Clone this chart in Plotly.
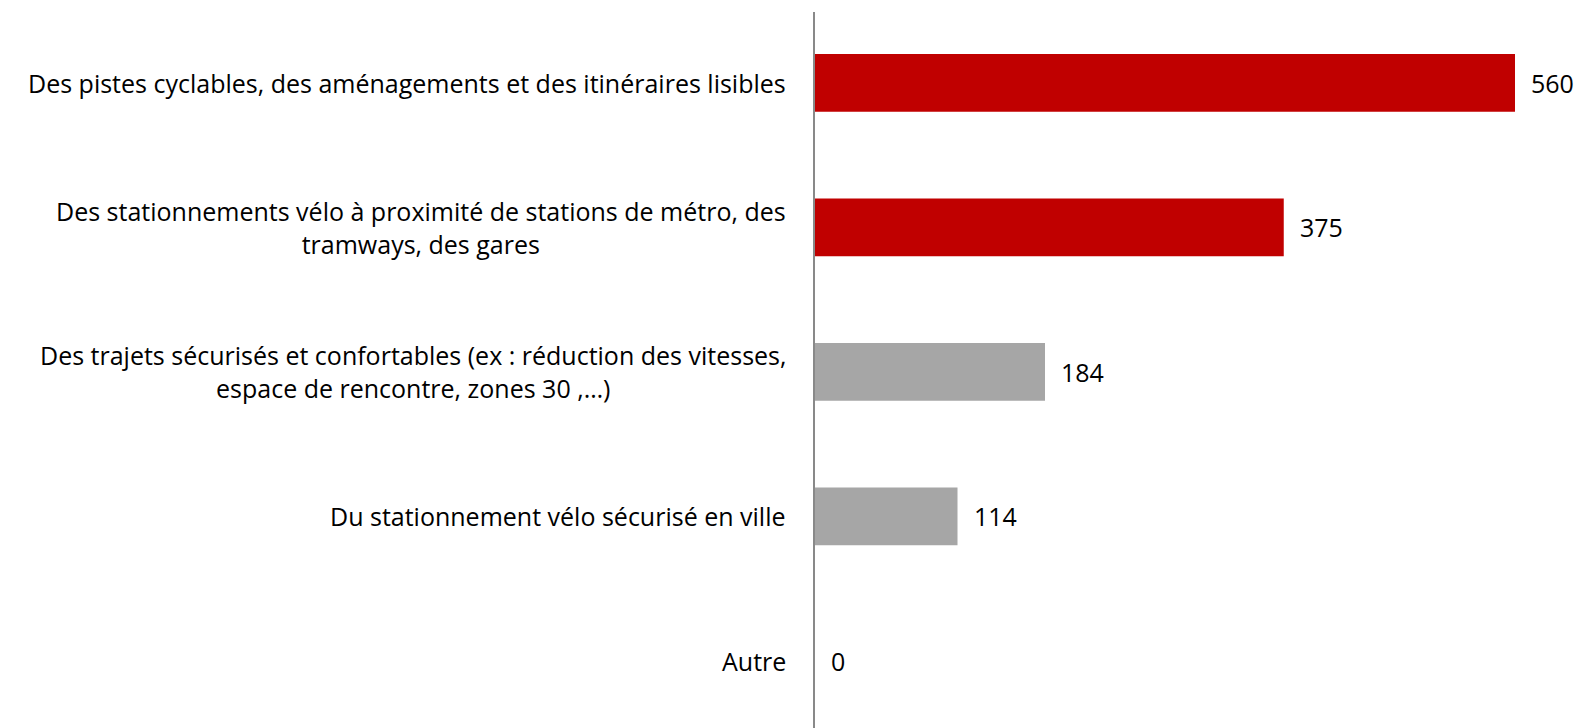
import plotly.graph_objects as go

categories = [
    "Des pistes cyclables, des aménagements et des itinéraires lisibles",
    "Des stationnements vélo à proximité de stations de métro, des<br>tramways, des gares",
    "Des trajets sécurisés et confortables (ex : réduction des vitesses,<br>espace de rencontre, zones 30 ,…)",
    "Du stationnement vélo sécurisé en ville",
    "Autre",
]
values = [560, 375, 184, 114, 0]
bar_colors = ["#C00000", "#C00000", "#A6A6A6", "#A6A6A6", "#A6A6A6"]

police = "'Open Sans', Lato, sans-serif"
taille = 25

fig = go.Figure(
    go.Bar(
        x=values,
        y=categories,
        orientation="h",
        width=0.4,
        marker=dict(color=bar_colors, line=dict(width=0)),
        hoverinfo="x+y",
    )
)

# Étiquettes des catégories (centrées sur plusieurs lignes, à gauche de l'axe)
for cat in categories:
    fig.add_annotation(
        x=0, y=cat, xref="x", yref="y",
        text=cat, showarrow=False,
        xanchor="right", align="center",
        xshift=-27,
        font=dict(family=police, size=taille, color="#000000"),
    )

# Valeurs à droite des barres
for cat, val in zip(categories, values):
    fig.add_annotation(
        x=val, y=cat, xref="x", yref="y",
        text=str(val), showarrow=False,
        xanchor="left", xshift=14,
        font=dict(family=police, size=taille, color="#000000"),
    )

fig.update_layout(
    width=1575,
    height=728,
    plot_bgcolor="white",
    paper_bgcolor="white",
    showlegend=False,
    margin=dict(l=815, r=0, t=12, b=0),
    xaxis=dict(
        range=[0, 608],
        visible=False,
        fixedrange=True,
    ),
    yaxis=dict(
        type="category",
        categoryorder="array",
        categoryarray=categories,
        range=[4.464, -0.49],
        showticklabels=False,
        showgrid=False,
        zeroline=False,
        showline=True,
        linecolor="#898989",
        linewidth=2,
        ticks="",
    ),
)

# pas de marge autour du graphique dans la page
fig.write_html(
    "out.html",
    config={"displayModeBar": False},
    post_script="document.body.style.margin='0';",
)
